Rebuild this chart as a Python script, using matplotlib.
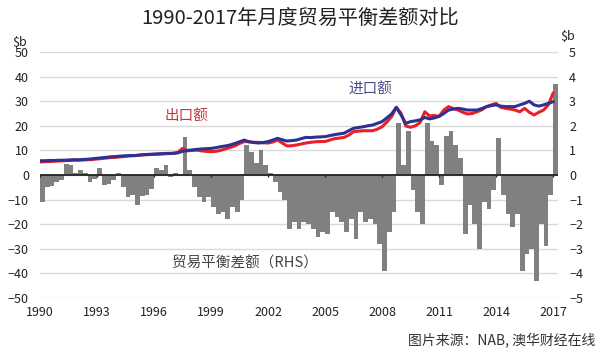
import numpy as np
import matplotlib
matplotlib.use("Agg")
import matplotlib.pyplot as plt

plt.rcParams['font.family'] = ['Noto Sans CJK SC', 'DejaVu Sans']

# quarterly values, 1990Q1 .. 2017Q1
start_year = 1990
exports = [
    5.3, 5.4, 5.5, 5.6,   5.7, 5.8, 5.9, 6.0,   6.0, 6.1, 6.2, 6.3,
    6.5, 6.7, 6.9, 7.1,   7.2, 7.4, 7.6, 7.8,   7.9, 8.1, 8.2, 8.3,
    8.4, 8.5, 8.6, 8.7,   8.8, 9.2, 10.8, 9.8,  10.0, 10.1, 9.8, 9.6,
    9.5, 9.6, 10.0, 10.6, 11.2, 11.8, 12.8, 13.6, 13.5, 13.3, 13.3, 13.1,
    13.0, 13.4, 14.2, 13.0, 11.8, 11.9, 12.2, 12.6, 13.0, 13.3, 13.5, 13.6,
    13.6, 14.2, 14.8, 15.0, 15.3, 16.2, 17.6, 17.8, 18.0, 18.0, 18.0, 18.6,
    19.6, 21.5, 23.7, 27.5, 25.1, 19.9, 19.4, 20.0, 21.3, 25.7, 24.0, 24.2,
    23.8, 26.4, 27.8, 27.0, 26.4, 25.5, 24.8, 25.0, 25.7, 26.5, 27.8, 28.5,
    29.1, 27.5, 27.1, 26.8, 26.4, 25.7, 27.1, 25.5, 24.4, 25.5, 26.4, 28.5,
    33.2,
]
imports = [
    5.8, 5.8, 5.9, 5.9,   6.0, 6.0, 6.1, 6.2,   6.2, 6.3, 6.4, 6.6,
    6.8, 7.0, 7.2, 7.4,   7.5, 7.7, 7.8, 7.9,   7.9, 8.1, 8.3, 8.4,
    8.5, 8.6, 8.7, 8.8,   8.8, 9.0, 9.6, 10.0,  10.2, 10.4, 10.6, 10.7,
    10.8, 11.1, 11.5, 11.8, 12.2, 12.8, 13.5, 14.2, 13.5, 13.2, 13.0, 13.2,
    13.6, 14.2, 14.9, 14.3, 13.8, 14.0, 14.2, 14.8, 15.3, 15.2, 15.4, 15.5,
    15.6, 16.0, 16.4, 16.7, 17.0, 18.0, 19.0, 19.3, 19.6, 20.0, 20.3, 21.0,
    21.7, 23.2, 24.8, 27.5, 24.4, 21.0, 21.7, 22.0, 22.4, 23.4, 22.8, 23.2,
    23.8, 25.0, 26.4, 26.8, 27.1, 26.8, 26.4, 26.4, 26.4, 27.0, 27.8, 28.2,
    28.5, 28.0, 27.8, 27.8, 27.8, 28.5, 29.1, 30.0, 28.5, 28.0, 28.5, 29.1,
    29.8,
]
balance = [
    -1.1, -0.5, -0.45, -0.3,  -0.2, 0.45, 0.4, 0.1,   0.2, 0.1, -0.3, -0.15,
    0.3, -0.4, -0.35, -0.2,   0.1, -0.5, -0.9, -0.8,  -1.2, -0.85, -0.8, -0.55,
    0.3, 0.2, 0.4, -0.1,      0.1, -0.05, 1.55, 0.2,  -0.5, -0.9, -1.1, -0.9,
    -1.3, -1.6, -1.5, -1.8,   -1.3, -1.5, -1.0, 1.2,  0.95, 0.5, 1.0, 0.4,
    0.1, -0.3, -0.7, -1.0,    -2.2, -1.9, -2.2, -1.9, -2.0, -2.2, -2.5, -2.3,
    -2.4, -1.5, -1.7, -1.9,   -2.3, -1.8, -2.6, -1.5, -1.9, -1.8, -2.0, -2.8,
    -3.9, -2.3, -1.5, 2.1,    0.4, 1.8, -0.6, -1.5,   -2.0, 2.1, 1.4, 1.2,
    -0.4, 1.6, 1.8, 1.2,      0.7, -2.4, -1.2, -2.0,  -3.0, -1.1, -1.4, -0.6,
    1.5, -0.8, -1.6, -2.1,    -1.6, -3.9, -3.2, -3.0, -4.3, -2.0, -2.9, -0.8,
    3.7,
]
year_ticks = [1990, 1993, 1996, 1999, 2002, 2005, 2008, 2011, 2014, 2017]
left_ticks = [-50, -40, -30, -20, -10, 0, 10, 20, 30, 40, 50]
right_ticks = [-5, -4, -3, -2, -1, 0, 1, 2, 3, 4, 5]

t = start_year + np.arange(len(balance)) / 4.0

fig = plt.figure(figsize=(6, 3.6), dpi=100)
ax = fig.add_axes([40 / 600, 1 - 298 / 360, 518 / 600, 246 / 360])
ax2 = ax.twinx()
ax.set_zorder(2)
ax.patch.set_visible(False)
ax2.set_zorder(1)

# trade balance bars (right axis)
ax2.bar(t, balance, width=0.25, align='edge', color='#808080', linewidth=0)
ax2.set_ylim(-5, 5)
ax2.set_yticks(right_ticks)
ax2.grid(axis='y', color='#d9d9d9', linewidth=1.0)
ax2.set_axisbelow(True)
ax2.axhline(0, color='#222222', linewidth=1.3, zorder=5)
ax2.vlines(year_ticks, -0.07, 0, color='#222222', linewidth=1.0, zorder=5)

# exports / imports (left axis)
ax.plot(t, exports, color='#e8202a', linewidth=2.2)
ax.plot(t, imports, color='#2e3192', linewidth=2.2)
ax.set_ylim(-50, 50)
ax.set_yticks(left_ticks)
ax.set_xlim(1990, 2017.26)
ax.set_xticks(year_ticks)

for a in (ax, ax2):
    for s in a.spines.values():
        s.set_visible(False)
    a.tick_params(length=0, labelsize=9, colors='#222222')
ax.tick_params(axis='y', pad=8)
ax2.tick_params(axis='y', pad=8)
ax.tick_params(axis='x', pad=6)

fig.text(20 / 600, 1 - 42 / 360, '$b', fontsize=9, ha='center', va='center', color='#222222')
fig.text(568 / 600, 1 - 36 / 360, '$b', fontsize=9, ha='center', va='center', color='#222222')

ax.text(1997.7, 24, '出口额', color='#c8323c', fontsize=10.5, ha='center', va='center')
ax.text(2007.4, 34.5, '进口额', color='#4b4b8c', fontsize=10.5, ha='center', va='center')
ax.text(2000.8, -36, '贸易平衡差额（RHS）', color='#444444', fontsize=10.5, ha='center', va='center')

fig.text(0.5, 1 - 18 / 360, '1990-2017年月度贸易平衡差额对比', fontsize=14.5,
         ha='center', va='center', color='#222222')
fig.text(502 / 600, 1 - 340 / 360, '图片来源：NAB, 澳华财经在线', fontsize=10,
         ha='center', va='center', color='#333333')

fig.savefig('out.png', dpi=100, facecolor='white')
